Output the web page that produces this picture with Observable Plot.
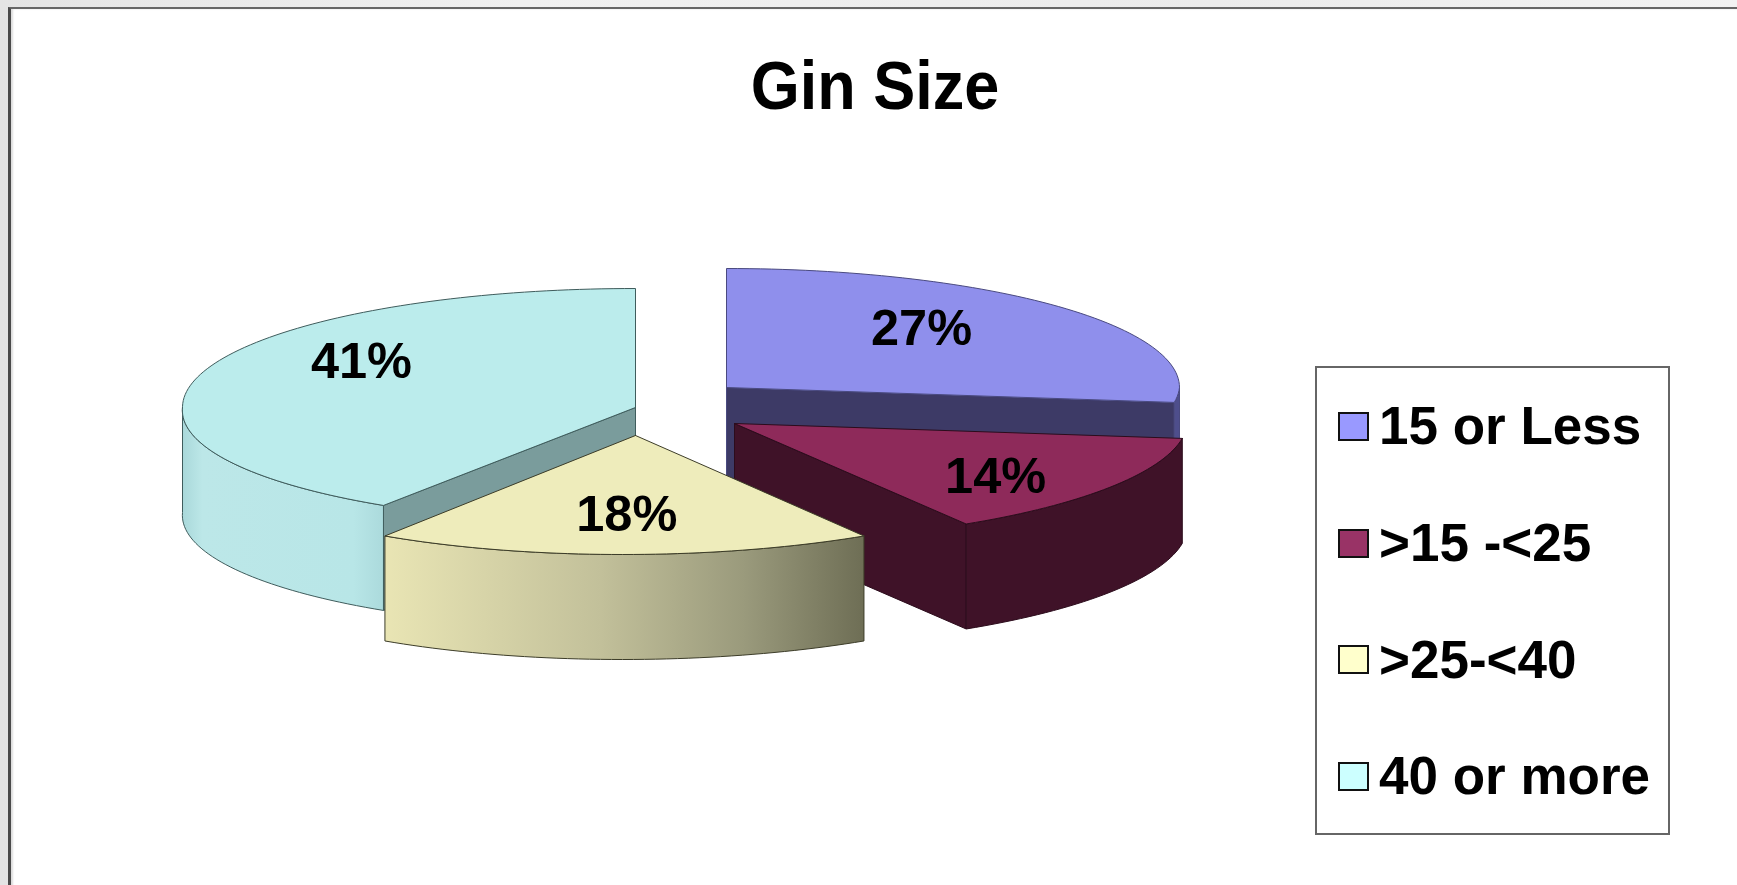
<!DOCTYPE html>
<html>
<head>
<meta charset="utf-8">
<script src="https://cdn.jsdelivr.net/npm/d3@7"></script>
<script src="https://cdn.jsdelivr.net/npm/@observablehq/plot@0.6"></script>
<style>
  html, body { margin: 0; padding: 0; width: 1737px; height: 885px; overflow: hidden;
    background: linear-gradient(90deg, #e4e4e4, #f0f0f0 30%, #ebebeb 70%, #f2f2f2); font-family: "Liberation Sans", Arial, sans-serif; }
  #panel { position: absolute; left: 8px; top: 7px; right: -4px; bottom: -4px; background: #fff;
    border-left: 3px solid #4a4a4a; border-top: 2px solid #666; box-shadow: inset 2px 0 2px #ddd; }
  #chart { position: absolute; left: 0; top: 0; }
  #title { position: absolute; left: 0; width: 1750px; top: 47px; text-align: center; font-size: 63px;
    line-height: 76px; font-weight: bold; color: #000; transform: scaleY(1.08); }
  #legend { position: absolute; left: 1315px; top: 366px; width: 351px; height: 465px; background: #fff;
    border: 2px solid #666; }
  .row { position: absolute; left: 0; right: 0; height: 116.7px; display: flex; align-items: center; }
  .sw { position: absolute; left: 21px; width: 27px; height: 25px; border: 2px solid #111; }
  .lab { position: absolute; left: 62px; font-size: 53px; line-height: 60px; font-weight: bold; color: #000; white-space: nowrap; }
</style>
</head>
<body>
<div id="panel"></div>
<div id="chart"></div>
<div id="title">Gin Size</div>
<div id="legend"></div>
<script>
// Data
const categories = ["15 or Less", ">15 -<25", ">25-<40", "40 or more"];
const shares = [27, 14, 18, 41];
const swatchColors = ["#9999ff", "#993366", "#ffffcc", "#ccffff"];

// Styling of each slice's faces
const topColors = ["#8f8fec", "#8e2a5a", "#eeecbb", "#bbecec"];
const innerColors = ["#3d3a66", "#3f1228", "#6f6f55", "#7a9c9c"];
const outerColors = ["#4e4e8c", "#3f1228", "url(#yellowSide)", "url(#cyanSide)"];
const edgeColors = ["#4a4a80", "#2c0c1c", "#3c3c28", "#3f5c5c"];

// Pie projection settings
const W = 1737, H = 885;
const ry = 119, depth = 105;
const radiusX = [453, 453, 447, 453];
const frontRy = [119, 119, 119, 116];
const shears = [0.11, 0.11, 0.11, 0.095];
const explodeX = [726, 734, 635, 635];
const explodeY = [387, 423, 435, 407];
const labelFx = [0.574, 0.698, 0, 0.63];
const labelFy = [0.75, 0.83, 0.664, 1.385];
const drawOrder = [0, 3, 1, 2];

const arcs = d3.pie().sort(null).value(d => d)(shares);
const project = (i, a, fx = 1, fy = 1) => {
  const c = Math.cos(a);
  const px = radiusX[i] * fx * Math.sin(a), py = -(c < 0 ? frontRy[i] : ry) * fy * c;
  return [explodeX[i] + px - shears[i] * Math.max(py, 0), explodeY[i] + py];
};
const arcPts = (i, a0, a1) => {
  const n = Math.max(2, Math.ceil((a1 - a0) * 40));
  return d3.range(n + 1).map(k => project(i, a0 + (a1 - a0) * k / n));
};
const down = p => [p[0], p[1] + depth];
const marksFor = (pts, fill, stroke) =>
  Plot.line([...pts, pts[0]], {x: d => d[0], y: d => d[1], fill, stroke, strokeWidth: 1, strokeLinejoin: "round", curve: "linear"});

const faceMarks = [];
for (const i of drawOrder) {
  const {startAngle: a0, endAngle: a1} = arcs[i];
  const apex = [explodeX[i], explodeY[i]];
  // radial faces that can be seen, behind the rim
  if (i === 0 || i === 1) {
    const c = project(i, a1);
    faceMarks.push(marksFor([apex, c, down(c), down(apex)], innerColors[i], edgeColors[i]));
  }
  if (i === 3) {
    const c = project(i, a0);
    faceMarks.push(marksFor([apex, c, down(c), down(apex)], innerColors[i], edgeColors[i]));
  }
  // outer rim: only the front half of the ellipse is seen
  const rim0 = Math.max(a0, Math.PI / 2), rim1 = Math.min(a1, 3 * Math.PI / 2);
  if (rim1 > rim0) {
    const rim = arcPts(i, rim0, rim1);
    faceMarks.push(marksFor([...rim, ...rim.slice().reverse().map(down)], outerColors[i], edgeColors[i]));
  }
  // top face
  faceMarks.push(marksFor([apex, ...arcPts(i, a0, a1)], topColors[i], edgeColors[i]));
}

const labels = arcs.map((d, i) => {
  const mid = (d.startAngle + d.endAngle) / 2;
  const [x, y] = project(i, mid, labelFx[i], labelFy[i]);
  return {x, y, text: `${shares[i]}%`};
});

const gradients = () => {
  const defs = d3.create("svg:defs");
  const add = (id, stops) => {
    const g = defs.append("linearGradient").attr("id", id);
    stops.forEach(([o, c]) => g.append("stop").attr("offset", o).attr("stop-color", c));
  };
  add("yellowSide", [[0, "#e9e5b4"], [0.45, "#c2c09a"], [0.75, "#9a9a7c"], [1, "#6e6e55"]]);
  add("cyanSide", [[0, "#a9d8da"], [0.1, "#bce7e8"], [0.85, "#b8e6e7"], [1, "#abdadc"]]);
  return defs.node();
};

const chart = Plot.plot({
  width: W, height: H, margin: 0,
  x: {domain: [0, W], range: [0, W], axis: null},
  y: {domain: [0, H], range: [0, H], axis: null},
  style: {background: "transparent"},
  marks: [
    gradients,
    ...faceMarks,
    Plot.text(labels, {x: "x", y: "y", text: "text", fontSize: 50.5, fontWeight: "bold",
      fontFamily: "Liberation Sans", fill: "#000", lineAnchor: "middle", textAnchor: "middle"})
  ]
});
document.getElementById("chart").append(chart);

const legend = document.getElementById("legend");
categories.forEach((c, i) => {
  const row = document.createElement("div");
  row.className = "row";
  row.style.top = (i * 116.7) + "px";
  row.innerHTML = `<span class="sw" style="background:${swatchColors[i]}"></span><span class="lab"></span>`;
  row.querySelector(".lab").textContent = c;
  legend.append(row);
});
</script>
</body>
</html>
